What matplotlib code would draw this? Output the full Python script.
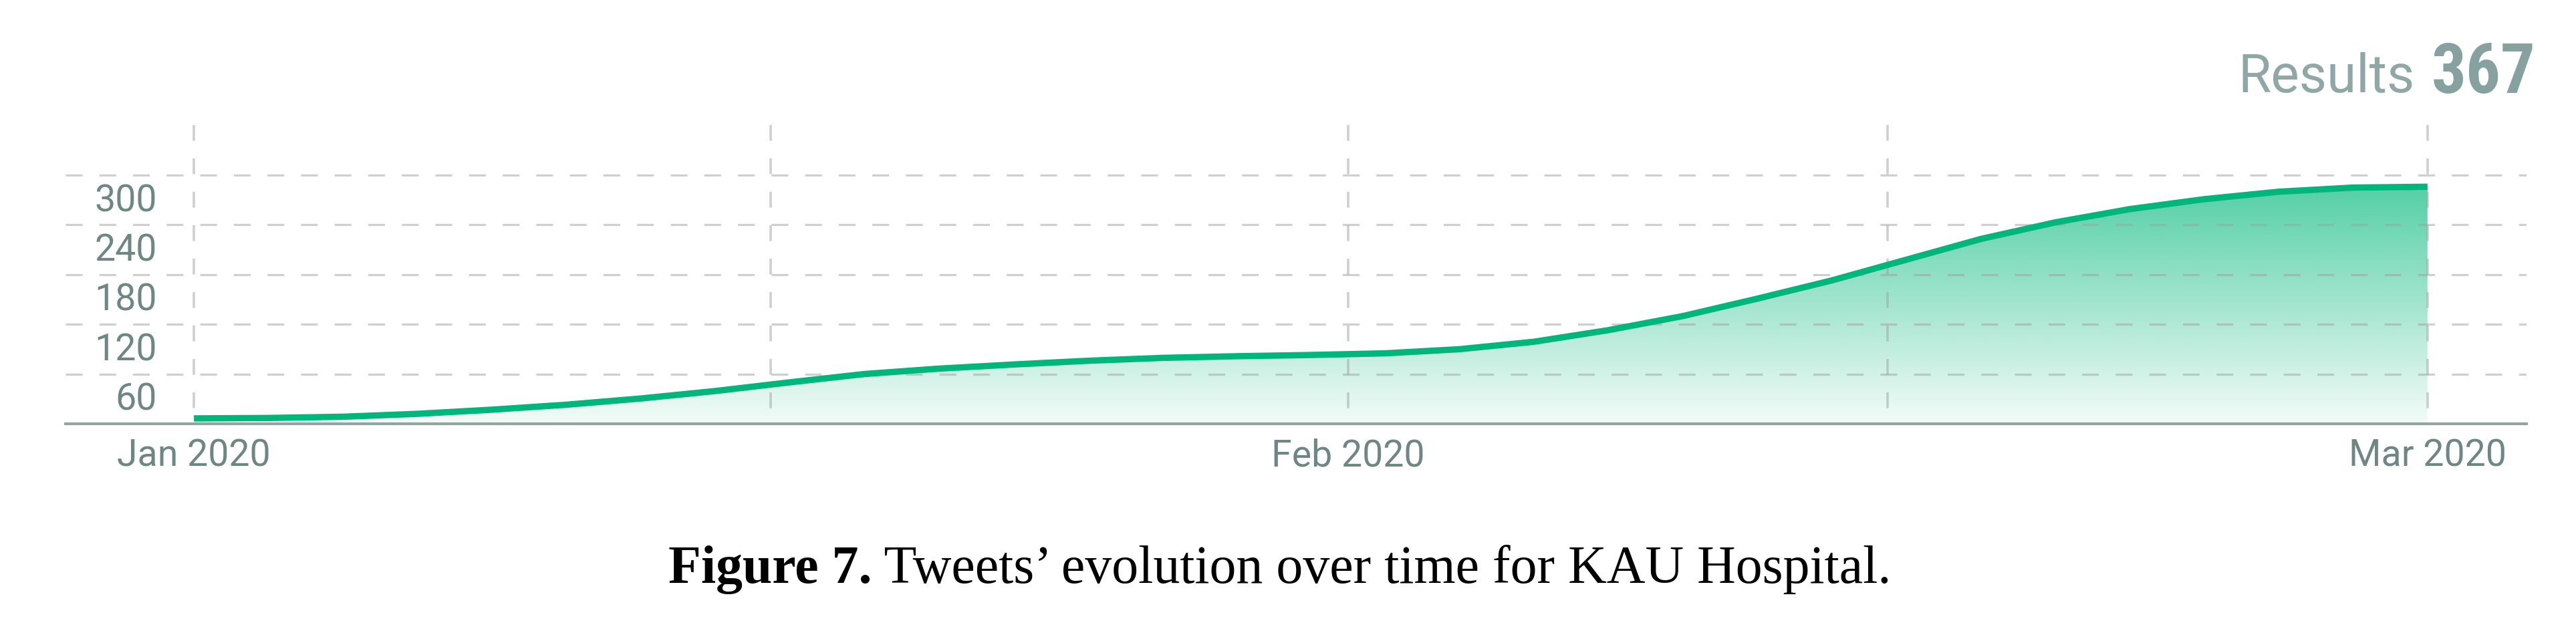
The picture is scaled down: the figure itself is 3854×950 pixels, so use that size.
import numpy as np
import pandas as pd
import matplotlib
matplotlib.use("Agg")
import matplotlib.pyplot as plt
import matplotlib.dates as mdates
from matplotlib import font_manager
from matplotlib.font_manager import FontProperties
from matplotlib.patches import Polygon
from matplotlib.transforms import ScaledTranslation, blended_transform_factory

# data (cumulative tweets, every 2 days)
dates = pd.date_range("2020-01-01", "2020-03-01", freq="2D")
tweets = [6.5, 7, 8.5, 12, 17, 23, 30.5, 39.5, 50, 60, 66.5, 71.5, 76, 79.5, 81.5, 83,
          85, 90, 99, 113, 130, 151, 173, 198, 223, 243, 259, 271, 280, 285, 286]
y_ticks = [60, 120, 180, 240, 300]
month_ticks = ["2020-01-01 00:00", "2020-02-01 00:00", "2020-03-01 00:00"]
month_labels = ["Jan 2020", "Feb 2020", "Mar 2020"]
mid_month = ["2020-01-16 12:00", "2020-02-15 12:00"]
total_results = 367
caption_bold = "Figure 7."
caption_rest = " Tweets\u2019 evolution over time for KAU Hospital."

plt.rcParams["lines.scale_dashes"] = False
green = "#00b67a"
label_col = "#6f8784"
title_col = "#8fa8a6"
grid_col = "#a0a0a0"

# the big number is in a narrow bold face; use one if installed
narrow = [f for f in font_manager.fontManager.ttflist
          if f.stretch in ("condensed", "semi-condensed", "extra-condensed")
          and f.weight in (700, "bold") and f.style == "normal"]
narrow.sort(key=lambda f: 0 if "Roboto" in f.name else 1 if "Liberation" in f.name else 2)
if narrow:
    num_prop = FontProperties(fname=narrow[0].fname, size=74)
else:
    num_prop = FontProperties(family="Roboto", weight="bold", size=66)

fig = plt.figure(figsize=(38.54, 9.5), dpi=100)
ax = fig.add_axes([98 / 3854, 1 - 634 / 950, 3682 / 3854, 447 / 950])

xd = mdates.date2num(dates)
x0 = mdates.date2num(pd.Timestamp("2020-01-01"))
ytop = 360.5

# gradient fill under the curve
vmax = max(tweets)
ys = np.linspace(0, vmax, 256)
img = np.zeros((256, 1, 4))
img[..., 1] = 184 / 255
img[..., 2] = 122 / 255
img[:, 0, 3] = 0.05 + 0.62 * ys / vmax
im = ax.imshow(img, extent=[xd[0], xd[-1], 0, vmax], origin="lower",
               aspect="auto", interpolation="bilinear", zorder=1)
poly = Polygon(np.column_stack([np.r_[xd, xd[-1], xd[0]], np.r_[tweets, 0, 0]]),
               closed=True, facecolor="none", edgecolor="none")
ax.add_patch(poly)
im.set_clip_path(poly)

ax.plot(xd, tweets, color=green, lw=6.8, solid_capstyle="butt",
        solid_joinstyle="round", zorder=3)

# dashed grid
for v in y_ticks:
    ax.plot([x0 - 3.45, x0 + 62.66], [v, v], color=grid_col, alpha=0.5, lw=2.3,
            linestyle=(0, (18, 18.2)), zorder=2)
vx = mdates.date2num(pd.to_datetime(month_ticks + mid_month))
for x in vx:
    ax.plot([x, x], [ytop, 0], color=grid_col, alpha=0.5, lw=2.6,
            linestyle=(0, (17, 19)), zorder=2)

ax.set_xlim(x0 - 3.45, x0 + 62.66)
ax.set_ylim(0, ytop)

for s in ["top", "left", "right"]:
    ax.spines[s].set_visible(False)
ax.spines["bottom"].set_color("#92a3a0")
ax.spines["bottom"].set_linewidth(3)
ax.spines["bottom"].set_zorder(4)

ax.set_yticks([])
ax.set_xticks(mdates.date2num(pd.to_datetime(month_ticks)))
ax.set_xticklabels(month_labels, fontsize=40, color=label_col, fontfamily="Roboto")
ax.tick_params(axis="x", length=0, pad=15.5)

# y labels sit just below their grid line
trans = blended_transform_factory(ax.transAxes, ax.transData) + \
    ScaledTranslation(0, -0.54, fig.dpi_scale_trans)
for v in y_ticks:
    ax.text((235 - 98) / 3682, v, str(v), transform=trans, ha="right",
            va="baseline", fontsize=40, color=label_col, family="Roboto")

fig.text(3613 / 3854, 1 - 138 / 950, "Results", ha="right", va="baseline",
         fontsize=57.6, color=title_col, family="Roboto")
fig.text(3638 / 3854, 1 - 139 / 950, str(total_results), ha="left", va="baseline",
         color="#86a1a0", fontproperties=num_prop)

t1 = fig.text(1000 / 3854, 1 - 872 / 950, caption_bold, ha="left", va="baseline",
              fontsize=57.5, weight="bold", family="Liberation Serif", color="black")
ax.annotate(caption_rest, xy=(1, 0), xycoords=t1, ha="left", va="bottom",
            fontsize=57.5, family="Liberation Serif", color="black",
            annotation_clip=False)

fig.savefig("out.png", dpi=100)
